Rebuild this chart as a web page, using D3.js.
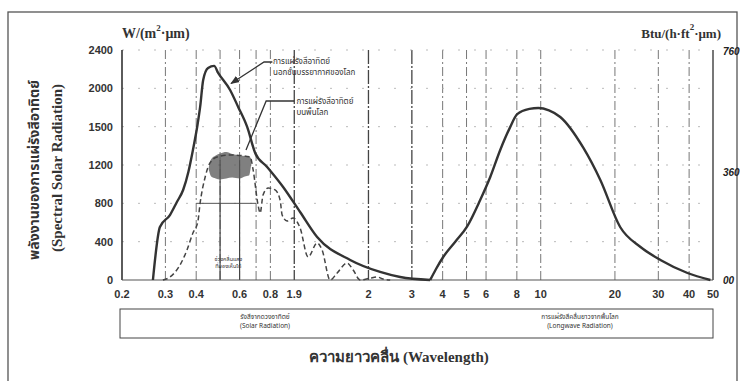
<!DOCTYPE html>
<html><head><meta charset="utf-8">
<script src="https://cdn.jsdelivr.net/npm/d3@7"></script>
<style>
body{margin:0;background:#fff}
svg{display:block}
</style></head>
<body><svg id="c" width="740" height="381"></svg>
<script>
// ---- data (wavelength in micrometres, spectral radiation in W/(m2·um)) ----
const xTickValues = [0.2,0.3,0.4,0.6,0.8,1.0,2,3,4,5,6,8,10,20,30,40,50];
const xTickLabels = ["0.2","0.3","0.4","0.6","0.8","1.9","2","3","4","5","6","8","10","20","30","40","50"];
const xGridValues = [0.3,0.4,0.5,0.6,0.7,0.8,1.0,2,3,4,5,6,8,10,20,30,40];
const xDarkGrid = [1.0,2,3];
const yTickValues = [0,400,800,1200,1600,2000,2400];
const yTickLabels = ["0","400","800","1200","1500","2000","2400"];
const yRightTickValues = [0,360,760];
const yRightTickLabels = ["00","360","760"];

const extraWl  = [0.267,0.285,0.313,0.334,0.354,0.372,0.388,0.405,0.415,0.427,0.447,0.473,0.491,0.549,0.592,0.644,0.694,0.776,0.901,1.056,1.238,1.686,2.23,2.69,3.56];
const extraVal = [0,553,678,814,939,1130,1357,1620,1806,2088,2213,2234,2161,1983,1806,1597,1326,1180,971,710,449,209,84,31,0];

const groundWl  = [0.293,0.313,0.344,0.367,0.388,0.406,0.415,0.435,0.455,0.486,0.549,0.662,0.681,0.713,0.727,0.747,0.783,0.836,0.876,0.893,0.935,0.989,1.056,1.138,1.238,1.297,1.398,1.493,1.639,1.734,1.850,2.032,2.169,2.294,2.45];
const groundVal = [0,31,157,313,491,605,804,1075,1221,1284,1305,1284,1148,783,700,887,960,940,835,678,616,647,543,240,386,313,0,73,177,104,0,20,31,10,0];

const bandWl     = [0.45,0.46,0.48,0.50,0.53,0.56,0.60,0.63,0.655,0.668];
const bandTop    = [1180,1260,1300,1320,1335,1315,1300,1295,1290,1270];
const bandBottom = [1150,1080,1060,1050,1060,1070,1060,1080,1090,1200];

const longWl  = [3.56,3.75,4.02,4.50,5.03,5.68,6.24,6.85,7.5,8.03,9.0,9.78,10.8,12.0,14.9,17.45,21.0,25.4,30.6,39.4,48.8];
const longVal = [0,110,240,400,560,835,1075,1357,1590,1730,1785,1795,1770,1701,1378,1044,553,344,209,73,0];

// ---- layout ----
const svg = d3.select("#c");
const x = d3.scaleLog().domain([0.2,50]).range([122,713]);
const y = d3.scaleLinear().domain([0,2400]).range([280,50]);
const yR = d3.scaleLinear().domain([0,760]).range([280,50]);
const ink = "#333";

// outer frame
svg.append("rect").attr("x",8).attr("y",12).attr("width",729).attr("height",380)
  .attr("fill","none").attr("stroke","#555").attr("stroke-width",1.3);

// grid
const g = svg.append("g");
g.selectAll(".vg").data(xGridValues).join("line")
  .attr("x1",d=>x(d)).attr("x2",d=>x(d)).attr("y1",y(2400)).attr("y2",y(0))
  .attr("stroke",d=>xDarkGrid.includes(d)?"#444":"#777")
  .attr("stroke-width",d=>xDarkGrid.includes(d)?1.3:1)
  .attr("stroke-dasharray",d=>xDarkGrid.includes(d)?"14,2,2,2":"9,3,2,3");
g.selectAll(".hg").data(yTickValues.slice(1)).join("line")
  .attr("x1",x(0.2)).attr("x2",x(50)).attr("y1",d=>y(d)).attr("y2",d=>y(d))
  .attr("stroke","#aaa").attr("stroke-width",0.8).attr("stroke-dasharray","2,14");

// visible band lines
g.append("line").attr("x1",x(0.4)).attr("x2",x(0.7)).attr("y1",y(800)).attr("y2",y(800))
  .attr("stroke","#555").attr("stroke-width",1);
[0.5,0.6].forEach(w=>{
  g.append("line").attr("x1",x(w)).attr("x2",x(w)).attr("y1",y(1250)).attr("y2",y(0))
   .attr("stroke","#444").attr("stroke-width",1.2);
});

// axes lines
svg.append("line").attr("x1",x(0.2)).attr("x2",x(0.2)).attr("y1",y(2400)).attr("y2",y(0)).attr("stroke",ink).attr("stroke-width",1.6);
svg.append("line").attr("x1",x(50)).attr("x2",x(50)).attr("y1",y(2400)).attr("y2",y(0)).attr("stroke","#555").attr("stroke-width",1.6);
svg.append("line").attr("x1",x(0.2)).attr("x2",x(50)).attr("y1",y(0)).attr("y2",y(0)).attr("stroke","#555").attr("stroke-width",1.2);

// tick labels
const tickFont = "'Liberation Sans', Arial, sans-serif";
svg.selectAll(".yl").data(yTickValues).join("text")
  .attr("x",x(0.2)-9).attr("y",d=>y(d)+4).attr("text-anchor","end")
  .attr("font-family",tickFont).attr("font-weight","bold").attr("font-size",11).attr("fill","#333")
  .text((d,i)=>yTickLabels[i]);
svg.selectAll(".yr").data(yRightTickValues).join("text")
  .attr("x",x(50)+10).attr("y",d=>yR(d)+(d===0?4:5)).attr("text-anchor","start")
  .attr("font-family",tickFont).attr("font-weight","bold").attr("font-style","italic").attr("font-size",10).attr("fill","#222")
  .text((d,i)=>yRightTickLabels[i]);
svg.selectAll(".xl").data(xTickValues).join("text")
  .attr("x",d=>x(d)).attr("y",298).attr("text-anchor","middle")
  .attr("font-family",tickFont).attr("font-weight","bold").attr("font-size",11).attr("fill","#333")
  .text((d,i)=>xTickLabels[i]);

// unit titles
const serif = "'Liberation Serif','DejaVu Serif',serif";
const ut = svg.append("text").attr("x",x(0.2)).attr("y",38).attr("font-family",serif).attr("font-weight","bold").attr("font-size",14).attr("fill","#333");
ut.append("tspan").text("W/(m");
ut.append("tspan").attr("dy",-7).attr("font-size",9).text("2");
ut.append("tspan").attr("dy",7).text("·μm)");
const ut2 = svg.append("text").attr("x",x(50)+8).attr("y",38).attr("text-anchor","end").attr("font-family",serif).attr("font-weight","bold").attr("font-size",13).attr("fill","#333");
ut2.append("tspan").text("Btu/(h·ft");
ut2.append("tspan").attr("dy",-8).attr("font-size",9).text("2");
ut2.append("tspan").attr("dy",8).text("·μm)");

// curves
const line = d3.line().x(d=>x(d[0])).y(d=>y(d[1])).curve(d3.curveMonotoneX);
svg.append("path").attr("d",line(d3.zip(extraWl,extraVal))).attr("fill","none").attr("stroke",ink).attr("stroke-width",2.4).attr("stroke-linejoin","round");
svg.append("path").attr("d",line(d3.zip(longWl,longVal))).attr("fill","none").attr("stroke",ink).attr("stroke-width",2.4);
const area = d3.area().x(d=>x(d[0])).y0(d=>y(d[2])).y1(d=>y(d[1])).curve(d3.curveMonotoneX);
svg.append("path").attr("d",area(d3.zip(bandWl,bandTop,bandBottom))).attr("fill","#555").attr("opacity",0.75);
svg.append("path").attr("d",line(d3.zip(groundWl,groundVal))).attr("fill","none").attr("stroke","#444").attr("stroke-width",1.5).attr("stroke-dasharray","5,3");

// annotations
svg.append("defs").append("marker").attr("id","arr").attr("viewBox","0 0 10 10").attr("refX",9).attr("refY",5)
  .attr("markerWidth",7).attr("markerHeight",7).attr("orient","auto")
  .append("path").attr("d","M0,1 L10,5 L0,9 Z").attr("fill",ink);
const lead = d3.line().x(d=>x(d[0])).y(d=>y(d[1]));
svg.append("path").attr("d",lead([[0.815,2275],[0.754,2275],[0.554,2050]])).attr("fill","none").attr("stroke",ink).attr("stroke-width",1.3).attr("marker-end","url(#arr)");
svg.append("path").attr("d",lead([[1.0,1868],[0.769,1868],[0.637,1357]])).attr("fill","none").attr("stroke",ink).attr("stroke-width",1.3);
const thai = "'Noto Sans Thai','Noto Sans','DejaVu Sans',sans-serif";
function note(w,v,lines,size,anchor){
  const t = svg.append("text").attr("x",x(w)).attr("y",y(v)).attr("font-family",thai).attr("font-size",size).attr("fill","#333").attr("text-anchor",anchor||"start");
  lines.forEach((s,i)=>t.append("tspan").attr("x",x(w)).attr("dy",i?size*1.35:0).text(s));
}
note(0.82,2255,["การแผ่รังสีอาทิตย์","นอกชั้นบรรยากาศของโลก"],8);
note(1.02,1837,["การแผ่รังสีอาทิตย์","บนพื้นโลก"],8);
note(0.54,200,["ช่วงคลื่นแสง","ที่มองเห็นได้"],5.5,"middle");

// bottom band box
svg.append("rect").attr("x",x(0.2)-2).attr("y",309).attr("width",x(50)-x(0.2)+2).attr("height",29)
  .attr("fill","none").attr("stroke","#444").attr("stroke-width",1);
function boxText(cx,lines){
  const t = svg.append("text").attr("x",cx).attr("y",319).attr("font-family",thai).attr("font-size",6.5).attr("fill","#333").attr("text-anchor","middle");
  lines.forEach((s,i)=>t.append("tspan").attr("x",cx).attr("dy",i?9:0).text(s));
}
boxText(265,["รังสีจากดวงอาทิตย์","(Solar Radiation)"]);
boxText(580,["การแผ่รังสีคลื่นยาวจากพื้นโลก","(Longwave Radiation)"]);

// axis titles
svg.append("text").attr("x",399).attr("y",362).attr("text-anchor","middle").attr("font-family",serif).attr("font-weight","bold").attr("font-size",15).attr("fill","#333")
  .text("ความยาวคลื่น (Wavelength)");
svg.append("text").attr("transform","translate(39,170) rotate(-90)").attr("text-anchor","middle").attr("font-family",thai).attr("font-weight","bold").attr("font-size",14).attr("fill","#333")
  .text("พลังงานของการแผ่รังสีอาทิตย์");
svg.append("text").attr("transform","translate(62,168) rotate(-90)").attr("text-anchor","middle").attr("font-family",serif).attr("font-weight","bold").attr("font-size",15).attr("fill","#333")
  .text("(Spectral Solar Radiation)");
</script></body></html>
